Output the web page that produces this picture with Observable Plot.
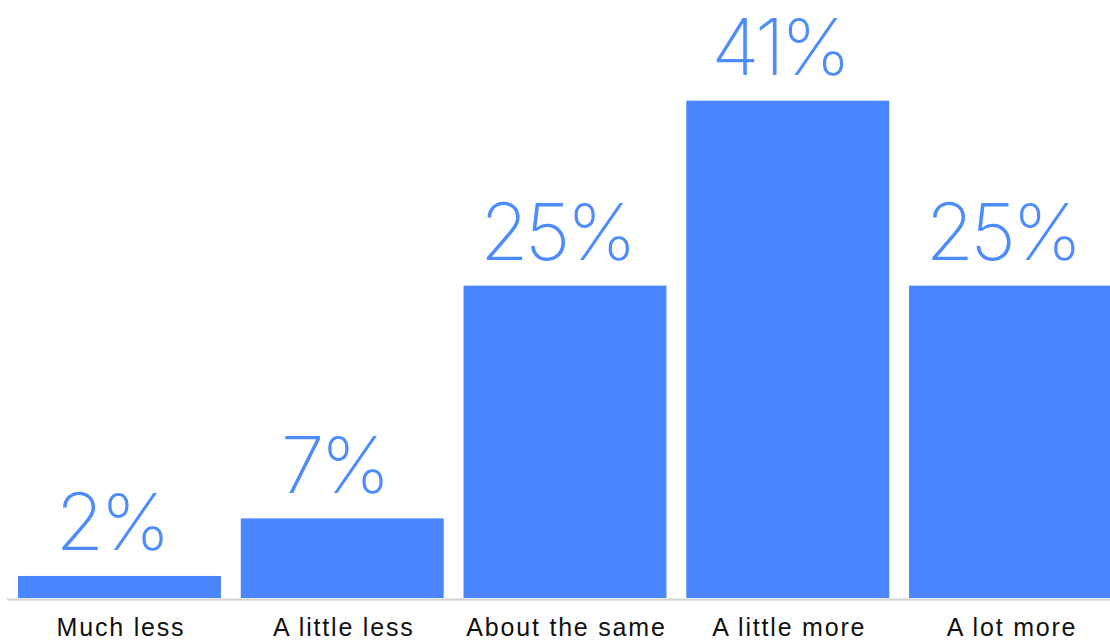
<!DOCTYPE html>
<html>
<head>
<meta charset="utf-8">
<script src="https://cdn.jsdelivr.net/npm/d3@7"></script>
<script src="https://cdn.jsdelivr.net/npm/@observablehq/plot@0.6"></script>
<style>
  html, body { margin: 0; padding: 0; background: #fff; }
  #chart svg { display: block; }
  #chart g[aria-label="x-axis tick label"] text { letter-spacing: 1.8px; }
  #chart g[aria-label="text"] text { letter-spacing: -4px; }
</style>
</head>
<body>
<div id="chart"></div>
<script>
const categories = ["Much less", "A little less", "About the same", "A little more", "A lot more"];
const values = [1.8, 6.5, 25.5, 40.6, 25.5];
const valueLabels = ["2%", "7%", "25%", "41%", "25%"];

const data = categories.map((c, i) => ({category: c, value: values[i], label: valueLabels[i]}));

const chart = Plot.plot({
  width: 1110,
  height: 640,
  marginLeft: 7,
  marginRight: 0,
  marginTop: 0,
  marginBottom: 42,
  style: {fontFamily: "'Liberation Sans', Arial, sans-serif", background: "#fff", overflow: "visible"},
  x: {domain: categories, range: [18, 1112], paddingInner: 0.089, paddingOuter: 0, round: false, label: null},
  y: {domain: [0, 45], range: [598, 598 - 45 * 12.25], axis: null},
  marks: [
    Plot.barY(data, {x: "category", y: "value", fill: "#4a86ff"}),
    Plot.ruleY([0], {stroke: "#d4d4d4", strokeWidth: 2, dy: 1}),
    Plot.text(data, {
      x: "category", y: "value", text: "label",
      lineAnchor: "bottom", dy: -26, dx: -9,
      fill: "#4d8cff", fontSize: 79, fontWeight: 200,
      fontFamily: "Inter, Lato, sans-serif"
    }),
    Plot.axisX({tickSize: 0, tickPadding: 20, dx: 1, fontSize: 25, fill: "#111", label: null})
  ]
});
document.getElementById("chart").append(chart);
</script>
</body>
</html>
